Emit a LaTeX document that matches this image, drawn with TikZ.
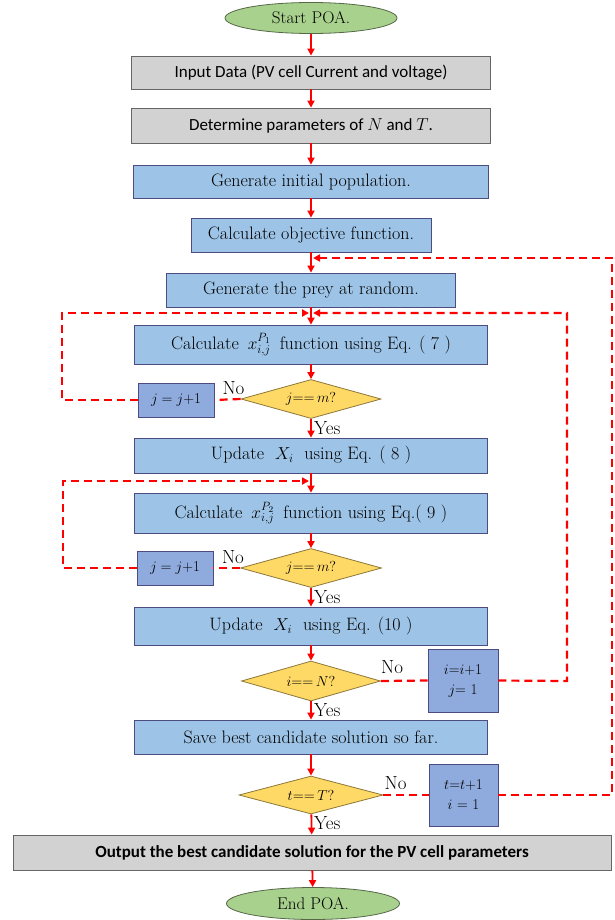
\documentclass[tikz,border=0pt]{standalone}
\usepackage{fontspec}
\newfontfamily\calibri{Carlito}
\usetikzlibrary{shapes.geometric,arrows.meta}
\definecolor{boxgrey}{RGB}{210,210,210}
\definecolor{boxblue}{RGB}{157,195,230}
\definecolor{stepblue}{RGB}{143,170,220}
\definecolor{testgold}{RGB}{255,217,102}
\definecolor{termgreen}{RGB}{169,209,142}

\begin{document}
\begin{tikzpicture}[x=1pt,y=-1pt,
    flow/.style={draw=red,line width=1.8pt,-{Triangle[length=7pt,width=7pt]}},
    back/.style={draw=red,line width=2.2pt,dash pattern=on 8pt off 5pt},
    greybox/.style={draw=gray!80!black,fill=boxgrey,line width=.8pt,inner sep=0pt,font=\calibri\fontsize{17}{19}\selectfont},
    bluebox/.style={draw=blue!30!black!70,fill=boxblue,line width=.8pt,inner sep=0pt,font=\fontsize{18}{20}\selectfont},
    jbox/.style={draw=blue!30!black!70,fill=stepblue,line width=.8pt,inner sep=0pt,align=center,font=\fontsize{15}{20}\selectfont},
    test/.style={diamond,aspect=3.6,draw=testgold!55!black,fill=testgold,line width=.8pt,inner sep=0pt,font=\fontsize{14.5}{17}\selectfont},
    term/.style={ellipse,draw=termgreen!50!black,fill=termgreen,line width=.8pt,inner sep=0pt,font=\fontsize{17}{19}\selectfont},
    lab/.style={inner sep=0pt,font=\fontsize{19}{21}\selectfont}]
  \useasboundingbox (0,0) rectangle (614,920);

  \node[term,minimum width=172,minimum height=31] (start) at (311,18) {Start POA.};
  \node[greybox,minimum width=359,minimum height=33] (input) at (311,72.5) {Input Data (PV cell Current and voltage)};
  \node[greybox,minimum width=359,minimum height=35] (param) at (311,125.5) {Determine parameters of $N$ and $T$.};
  \node[bluebox,minimum width=355,minimum height=33] (init) at (311,181.5) {Generate initial population.};
  \node[bluebox,minimum width=240,minimum height=34] (obj) at (311,235) {Calculate objective function.};
  \node[bluebox,minimum width=289,minimum height=34] (prey) at (311,290) {Generate the prey at random.};
  \node[bluebox,minimum width=353,minimum height=39] (calcA) at (311,344.5) {Calculate\enspace$x_{i,j}^{P_1}$\enspace function using Eq. ( 7 )};
  \node[test,minimum width=140,minimum height=39] (decA) at (311,399) {$j$==\,$m$?};
  \node[jbox,minimum width=76,minimum height=34] (jA) at (176,400) {$j=j$+1};
  \node[bluebox,minimum width=353,minimum height=35] (updA) at (311,455.5) {Update \ $X_i$ \ using Eq. ( 8 )};
  \node[bluebox,minimum width=353,minimum height=40] (calcB) at (311,513) {Calculate\enspace$x_{i,j}^{P_2}$\enspace function using Eq.( 9 )};
  \node[test,minimum width=141,minimum height=39] (decB) at (311,568) {$j$==\,$m$?};
  \node[jbox,minimum width=76,minimum height=34] (jB) at (175,568) {$j=j$+1};
  \node[bluebox,minimum width=353,minimum height=38] (updB) at (311,626) {Update \ $X_i$ \ using Eq. (10 )};
  \node[test,minimum width=139,minimum height=40] (decN) at (311,681) {$i$==\,$N$?};
  \node[jbox,minimum width=70,minimum height=63] (iBox) at (463,680.5) {$i$=$i$+1\\$j$= 1};
  \node[bluebox,minimum width=353,minimum height=34] (save) at (311,737) {Save best candidate solution so far.};
  \node[test,minimum width=144,minimum height=38] (decT) at (311,795) {$t$==\,$T$?};
  \node[jbox,minimum width=69,minimum height=62] (tBox) at (463.5,795) {$t$=$t$+1\\$i$ = 1};
  \node[greybox,minimum width=598,minimum height=35] (output) at (312,852.5) {\bfseries Output the best candidate solution for the PV cell parameters};
  \node[term,minimum width=173,minimum height=32] (end) at (313,903.5) {End POA.};

  \coordinate (mA) at (311,313);
  \coordinate (mB) at (311,481);
  \coordinate (mT) at (311,258);

  \draw[flow] (start) -- (input);
  \draw[flow] (input) -- (param);
  \draw[flow] (param) -- (init);
  \draw[flow] (init) -- (obj);
  \draw[flow] (obj) -- (prey);
  \draw[flow] (prey) -- (calcA);
  \draw[flow] (calcA) -- (decA);
  \draw[flow] (decA) -- (updA);
  \draw[flow] (updA) -- (calcB);
  \draw[flow] (calcB) -- (decB);
  \draw[flow] (decB) -- (updB);
  \draw[flow] (updB) -- (decN);
  \draw[flow] (decN) -- (save);
  \draw[flow] (save) -- (decT);
  \draw[flow] (decT) -- (output);
  \draw[flow] (output) -- (end);

  \draw[back] (decA.west) -- (jA.east);
  \draw[back,-{Triangle[length=7pt,width=7pt]}] (jA.west) -- (62,400) -- (62,313) -- ([xshift=-2pt]mA);
  \draw[back] (decB.west) -- (jB.east);
  \draw[back,-{Triangle[length=7pt,width=7pt]}] (jB.west) -- (63,568) -- (63,481) -- ([xshift=-2pt]mB);
  \draw[back] (decN.east) -- (iBox.west);
  \draw[back,-{Triangle[length=7pt,width=7pt]}] (iBox.east) -- (567,681) -- (567,313) -- ([xshift=2pt]mA);
  \draw[back] (decT.east) -- (tBox.west);
  \draw[back,-{Triangle[length=7pt,width=7pt]}] (tBox.east) -- (612,795) -- (612,258) -- ([xshift=2pt]mT);

  \node[lab,anchor=south east] (noA) at ([xshift=4pt,yshift=4pt]decA.west) {No};
  \node[lab,anchor=south east] (noB) at ([xshift=4pt,yshift=4pt]decB.west) {No};
  \node[lab,anchor=south west] (noN) at ([xshift=0pt,yshift=7pt]decN.east) {No};
  \node[lab,anchor=south west] (noT) at ([xshift=1pt,yshift=5pt]decT.east) {No};
  \node[lab,anchor=north west] (yesA) at ([xshift=3pt,yshift=-2pt]decA.south) {Yes};
  \node[lab,anchor=north west] (yesB) at ([xshift=3pt,yshift=-2pt]decB.south) {Yes};
  \node[lab,anchor=north west] (yesN) at ([xshift=3pt,yshift=-2pt]decN.south) {Yes};
  \node[lab,anchor=north west] (yesT) at ([xshift=3pt,yshift=-2pt]decT.south) {Yes};
\end{tikzpicture}
\end{document}
